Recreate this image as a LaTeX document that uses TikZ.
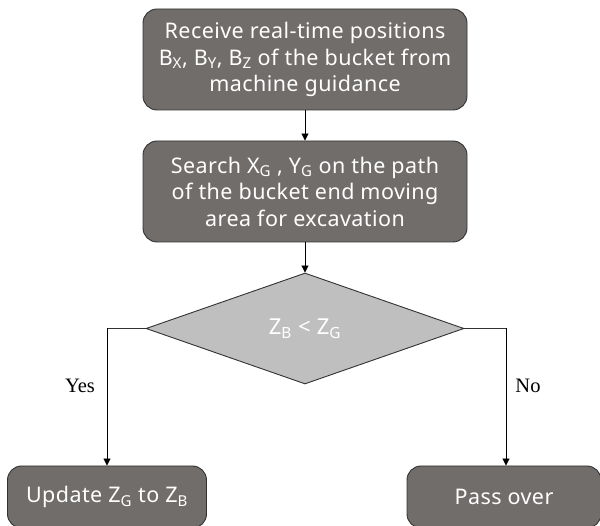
\documentclass[tikz,border=0pt]{standalone}
\usepackage{fontspec}
\setmainfont{Liberation Serif}
\newfontfamily\boxfont[LetterSpace=2]{Noto Sans}
\usetikzlibrary{shapes.geometric,arrows.meta}
\definecolor{boxfill}{RGB}{113,109,107}
\definecolor{edgegray}{RGB}{50,50,50}
\definecolor{decfill}{RGB}{191,191,191}
\tikzset{
  procbox/.style={draw=edgegray, line width=0.9pt, fill=boxfill, rounded corners=14pt,
    text=white, align=center, inner sep=0pt,
    font=\boxfont\fontsize{21.5}{26.5}\selectfont},
  decision/.style={diamond, draw=edgegray, line width=0.9pt, fill=decfill, text=white,
    inner sep=0pt, font=\boxfont\fontsize{22}{26}\selectfont},
  flow/.style={draw=black, line width=0.9pt, -{Triangle[length=7pt,width=7pt]}},
  branch/.style={draw=edgegray, line width=0.9pt},
  answer/.style={font=\fontsize{20.5}{24}\selectfont, text=black}
}
\begin{document}
\begin{tikzpicture}[x=1pt,y=-1pt]
  \useasboundingbox (0,0) rectangle (600,526);
  \clip (0,0) rectangle (600,526);

  \node[procbox, minimum width=324pt, minimum height=101pt] (recv) at (305,59.5)
    {Receive real-time positions\\
     B\textsubscript{X}, B\textsubscript{Y}, B\textsubscript{Z} of the bucket from\\
     machine guidance};

  \node[procbox, minimum width=324pt, minimum height=101pt] (search) at (305,191.5)
    {Search X\textsubscript{G} , Y\textsubscript{G} on the path\\
     of the bucket end moving\\
     area for excavation};

  \node[decision, minimum width=318pt, minimum height=111pt, aspect=2.86] (cmp) at (305,328.5)
    {Z\textsubscript{B} < Z\textsubscript{G}};

  \node[procbox, minimum width=199pt, minimum height=62pt] (upd) at (107,497)
    {Update Z\textsubscript{G} to Z\textsubscript{B}};

  \node[procbox, minimum width=194pt, minimum height=62pt] (pass) at (504,497)
    {Pass over};

  \coordinate (ycorner) at (107,328.5);
  \coordinate (ncorner) at (506,328.5);

  \draw[flow] (recv.south) -- (search.north);
  \draw[flow] (search.south) -- (cmp.north);
  \draw[branch] (cmp.west) -- (ycorner);
  \draw[flow] (ycorner) -- (upd.north);
  \draw[branch] (cmp.east) -- (ncorner);
  \draw[flow] (ncorner) -- (ncorner |- pass.north);

  \node[answer] (yes) at (80,386) {Yes};
  \node[answer] (no) at (528,386) {No};
\end{tikzpicture}
\end{document}
